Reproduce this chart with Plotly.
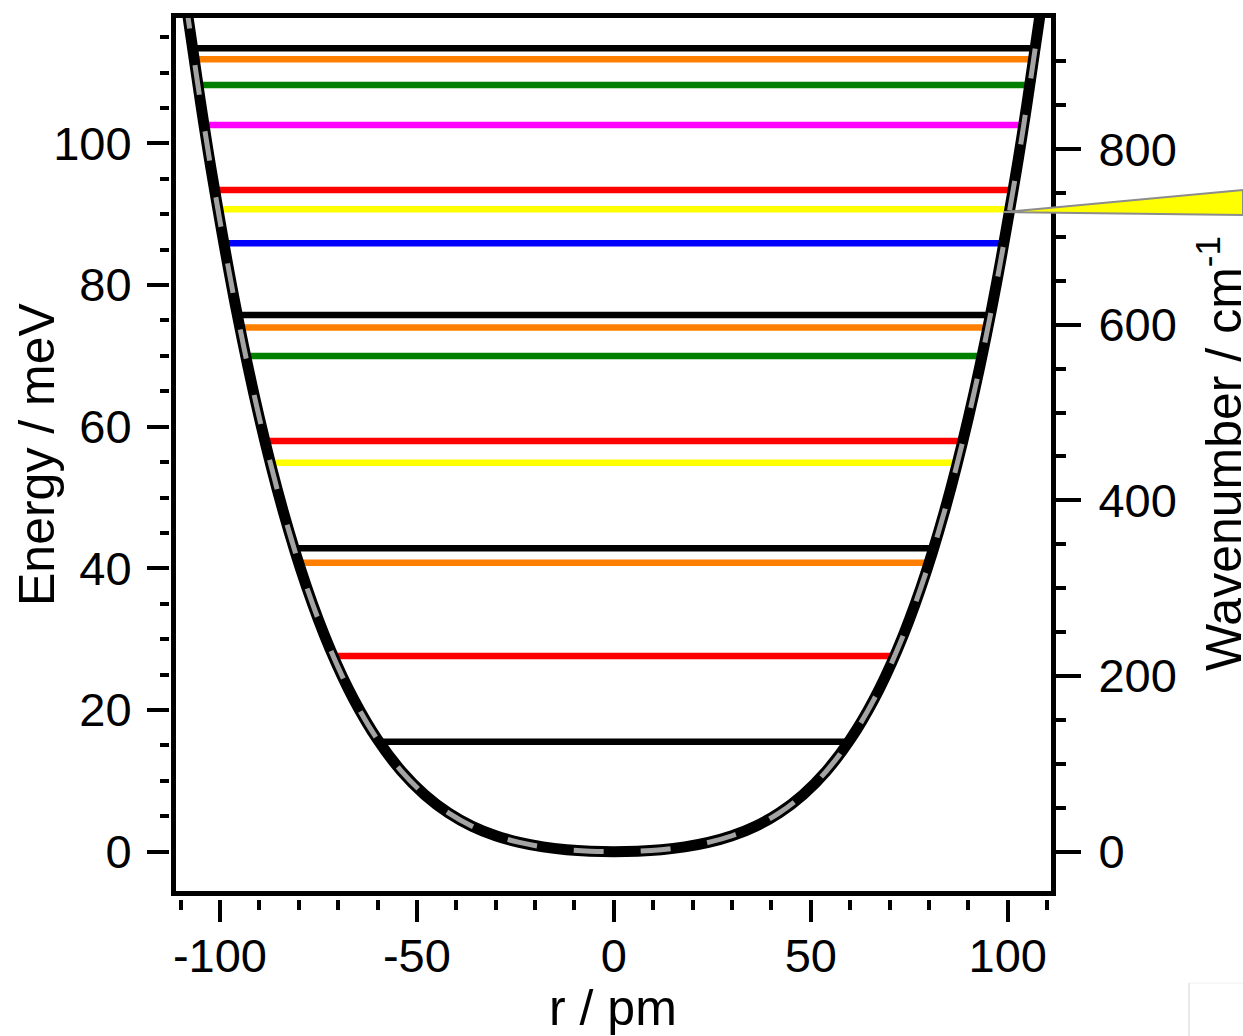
import plotly.graph_objects as go

# ---- data -------------------------------------------------------------
# potential energy curve V(r): r in pm, V in meV
r_pm = [-111, -108, -105, -102, -96, -90, -84, -78, -72, -66, -60, -54, -48, -42, -36,
        -30, -24, -18, -12, -6, 0, 6, 12, 18, 24, 30, 36, 42, 48, 54, 60, 66, 72, 78,
        84, 90, 96, 102, 105, 108, 111]
v_mev = [129.8, 117.45, 106.06, 95.53, 76.94, 61.26, 48.18, 37.38, 28.57, 21.47, 15.83,
         11.42, 8.03, 5.48, 3.60, 2.25, 1.31, 0.68, 0.28, 0.07, 0.0, 0.07, 0.28, 0.68,
         1.31, 2.25, 3.60, 5.48, 8.03, 11.42, 15.83, 21.47, 28.57, 37.38, 48.18, 61.26,
         76.94, 95.53, 106.06, 117.45, 129.8]

# eigenstate energies (meV), classical turning points (pm) and colours
level_energy = [15.53, 27.63, 40.80, 42.84, 54.92, 57.98, 69.98, 74.01, 75.77,
                85.90, 90.70, 93.42, 102.60, 108.25, 111.87, 113.42]
level_turn = [59.6, 71.3, 80.0, 81.2, 87.2, 88.6, 93.5, 95.0, 95.6,
              99.0, 100.5, 101.4, 104.0, 105.6, 106.6, 107.0]
level_color = ["#000000", "#ff0000", "#ff7f00", "#000000", "#ffff00", "#ff0000",
               "#008000", "#ff7f00", "#000000", "#0000ff", "#ffff00", "#ff0000",
               "#ff00ff", "#008000", "#ff7f00", "#000000"]

MEV_TO_CM = 8.0655          # 1 meV in cm^-1
x_range = [-111.28, 110.97]
e_range = [-5.48, 117.7]
x_ticks = [-100, -50, 0, 50, 100]
x_minor = [-110, -90, -80, -70, -60, -40, -30, -20, -10,
           10, 20, 30, 40, 60, 70, 80, 90, 110]
e_ticks = [0, 20, 40, 60, 80, 100]
e_minor = [5, 10, 15, 25, 30, 35, 45, 50, 55, 65, 70, 75, 85, 90, 95, 105, 110, 115]
wn_ticks = [0, 200, 400, 600, 800]
wn_minor = [50, 100, 150, 250, 300, 350, 450, 500, 550, 650, 700, 750, 850, 900]

# ---- layout geometry ----------------------------------------------------
W, H = 1243, 1036
ML, MR, MT, MB = 169, 192, 18, 137
PW, PH = W - ML - MR, H - MT - MB
dx0 = 6.5 / PW
dy0 = 8.5 / PH
FONT = "Arial, Liberation Sans, sans-serif"


def paper_x(r):
    return dx0 + (r - x_range[0]) / (x_range[1] - x_range[0]) * (1 - dx0)


def paper_y(e):
    return dy0 + (e - e_range[0]) / (e_range[1] - e_range[0]) * (1 - dy0)


def px2paper_x(p):
    return (p - ML) / PW


def px2paper_y(p):
    return (H - MB - p) / PH


fig = go.Figure()

# energy levels, drawn between the turning points
for e, rt, c in zip(level_energy, level_turn, level_color):
    fig.add_trace(go.Scatter(x=[-rt, rt], y=[e, e], mode="lines",
                             line=dict(color=c, width=6.5),
                             showlegend=False, hoverinfo="skip"))

# potential: thick black curve with grey dashes on top
fig.add_trace(go.Scatter(x=r_pm, y=v_mev, mode="lines",
                         line=dict(color="#000000", width=11, shape="spline"),
                         showlegend=False, hoverinfo="skip"))
fig.add_trace(go.Scatter(x=r_pm, y=v_mev, mode="lines",
                         line=dict(color="#a4a4a4", width=5, shape="spline",
                                   dash="30px,37px"),
                         showlegend=False, hoverinfo="skip"))

# carriers for the tick-only axes
fig.add_trace(go.Scatter(x=[None], y=[None], xaxis="x2", yaxis="y",
                         showlegend=False, hoverinfo="skip"))
fig.add_trace(go.Scatter(x=[None], y=[None], xaxis="x", yaxis="y2",
                         showlegend=False, hoverinfo="skip"))
fig.add_trace(go.Scatter(x=[None], y=[None], xaxis="x", yaxis="y3",
                         showlegend=False, hoverinfo="skip"))

tickfont = dict(family=FONT, size=47, color="#000000")

fig.update_layout(
    width=W, height=H,
    margin=dict(l=ML, r=MR, t=MT, b=MB, pad=0),
    paper_bgcolor="white", plot_bgcolor="white",
    xaxis=dict(range=x_range, domain=[dx0, 1], showline=True, linewidth=5,
               linecolor="black", mirror=True, ticks="", showticklabels=False,
               showgrid=False, zeroline=False),
    xaxis2=dict(range=x_range, overlaying="x", anchor="free", position=0,
                side="bottom", tickmode="array", tickvals=x_ticks,
                ticktext=[str(v) for v in x_ticks],
                ticks="outside", ticklen=22, tickwidth=4, tickcolor="black",
                ticklabelstandoff=-6,
                minor=dict(ticks="outside", ticklen=10, tickwidth=4,
                           tickcolor="black", tickmode="array", tickvals=x_minor),
                showline=False, showgrid=False, zeroline=False,
                tickfont=tickfont),
    yaxis=dict(range=e_range, domain=[dy0, 1], showline=True, linewidth=5,
               linecolor="black", mirror=True, ticks="", showticklabels=False,
               showgrid=False, zeroline=False),
    yaxis2=dict(range=e_range, overlaying="y", anchor="free", position=0,
                side="left", tickmode="array", tickvals=e_ticks,
                ticks="outside", ticklen=22, tickwidth=4, tickcolor="black",
                ticklabelstandoff=6,
                minor=dict(ticks="outside", ticklen=9, tickwidth=4,
                           tickcolor="black", tickmode="array", tickvals=e_minor),
                showline=False, showgrid=False, zeroline=False,
                tickfont=tickfont),
    yaxis3=dict(range=[v * MEV_TO_CM for v in e_range], overlaying="y",
                anchor="x", side="right", tickmode="array", tickvals=wn_ticks,
                ticks="outside", ticklen=25, tickwidth=4, tickcolor="black",
                ticklabelstandoff=8,
                minor=dict(ticks="outside", ticklen=10, tickwidth=4,
                           tickcolor="black", tickmode="array", tickvals=wn_minor),
                showline=True, linewidth=5, linecolor="black",
                showgrid=False, zeroline=False, tickfont=tickfont),
)

# axis titles
fig.add_annotation(text="r / pm", xref="paper", yref="paper",
                   x=px2paper_x(613), y=px2paper_y(1008), showarrow=False,
                   xanchor="center", yanchor="middle",
                   font=dict(family=FONT, size=50, color="black"))
fig.add_annotation(text="Energy / meV", xref="paper", yref="paper",
                   x=px2paper_x(37), y=px2paper_y(454), showarrow=False,
                   textangle=-90, xanchor="center", yanchor="middle",
                   font=dict(family=FONT, size=50, color="black"))
fig.add_annotation(text="Wavenumber / cm<sup>-1</sup>", xref="paper", yref="paper",
                   x=px2paper_x(1220), y=px2paper_y(454), showarrow=False,
                   textangle=-90, xanchor="center", yanchor="middle",
                   font=dict(family=FONT, size=50, color="black"))

# yellow pointer leaving the yellow level at the right turning point
i_y = 10
ax_, ay_ = paper_x(level_turn[i_y] - 1.5), paper_y(level_energy[i_y] - 0.4)
rx = px2paper_x(W)
fig.add_shape(type="path", xref="paper", yref="paper",
              path=(f"M {ax_} {ay_} L {rx} {px2paper_y(190)} "
                    f"L {rx} {px2paper_y(215)} Z"),
              fillcolor="#ffff00", line=dict(color="#8c8c8c", width=2),
              layer="above")

# corner of the neighbouring panel
fig.add_shape(type="line", xref="paper", yref="paper",
              x0=px2paper_x(1189), x1=px2paper_x(1189),
              y0=px2paper_y(983), y1=px2paper_y(1040),
              line=dict(color="#d4d4d4", width=1))
fig.add_shape(type="line", xref="paper", yref="paper",
              x0=px2paper_x(1189), x1=px2paper_x(1250),
              y0=px2paper_y(983), y1=px2paper_y(983),
              line=dict(color="#f0f0f0", width=1))

fig.write_html("out.html")
